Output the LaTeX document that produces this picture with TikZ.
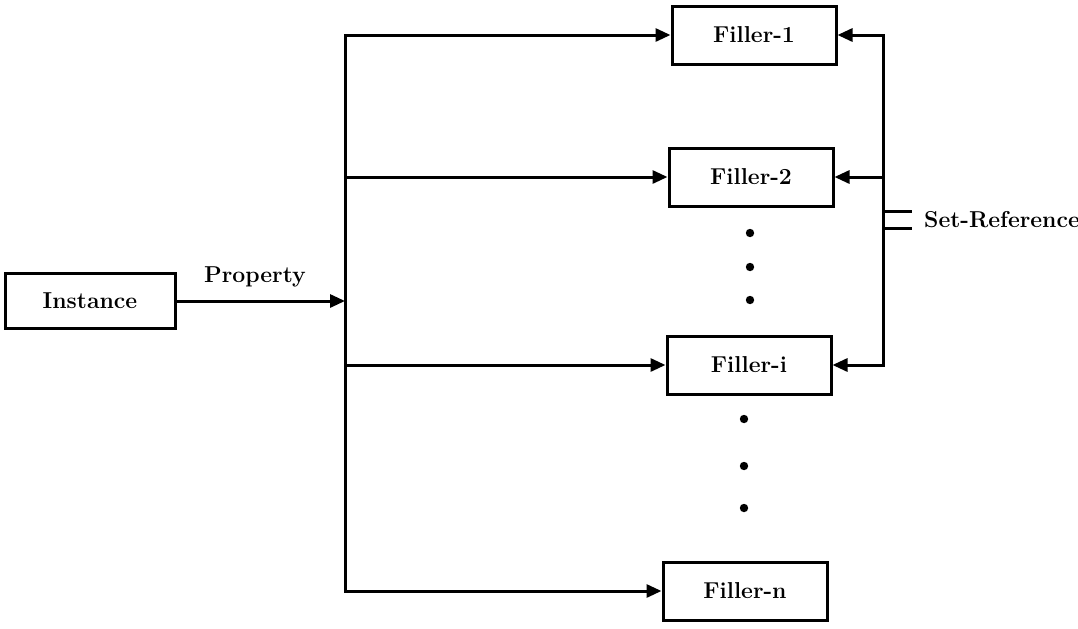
\documentclass[tikz,border=0pt]{standalone}
\usepackage{tikz}
\usetikzlibrary{calc, positioning, arrows.meta}
\tikzset{
	font = \fontsize{11.5}{13}\selectfont\bfseries,
	box/.style={
		draw,
		rectangle,
		line width=1.5pt,
		minimum width=82pt,
		minimum height=29pt,
		inner sep=2pt
	},
	edge/.style={
		-{Triangle[length=7.5pt,width=6.5pt]},
		line width=1.5pt
	},
	stub/.style={
		line width=1.5pt
	},
	dot/.style={
		fill,
		circle,
		inner sep=0pt,
		minimum size=4.2pt
	}
}

\begin{document}
\begin{tikzpicture}[x=0.5pt, y=-0.5pt, line width=1.5pt]
	\useasboundingbox (0,0) rectangle (1078,628);
\node[box, minimum width=85pt, minimum height=27.5pt] (inst) at (90,301) {Instance};
\node[box] (f1) at (754,35) {Filler-1};
\node[box] (f2) at (751,177) {Filler-2};
\node[box] (fi) at (749,365) {Filler-i};
\node[box] (fn) at (745,591) {Filler-n};
\node (prop) at (255,277) {Property};
\coordinate (trunk) at (345,0);
\coordinate (rail) at (883,0);

% ---
% Property to fillers
% ---
\draw[edge] (inst) -- (inst -| trunk);
\draw[edge] (fn.west -| trunk) |- (f1.west);
\draw[edge] (fi.west -| trunk) |- (fn.west);
\foreach \f in {f2,fi} {
	\draw[edge] (\f.west -| trunk) -- (\f.west);
}

% ---
% Set reference
% ---
\draw[edge] (fi.east -| rail) |- (f1.east);
\draw[edge] (f2.east -| rail) |- (fi.east);
\draw[edge] (f2.east -| rail) -- (f2.east);
\coordinate (s1) at (883,211);
\coordinate (s2) at (883,228);
\node[anchor=west] (setref) at (916,220) {Set-Reference};
\draw[stub] (s1) -- ++(29,0);
\draw[stub] (s2) -- ++(29,0);

% ---
% Dots
% ---
\foreach \y in {233,267,300} {
	\node[dot] at (750,\y) {};
}
\foreach \y in {419,466,508} {
	\node[dot] at (744,\y) {};
}
	\end{tikzpicture}
\end{document}
